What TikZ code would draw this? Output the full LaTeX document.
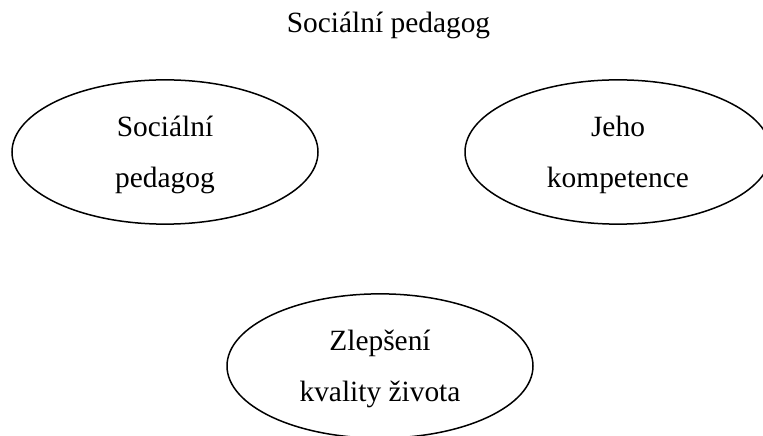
\documentclass[tikz,border=0pt]{standalone}
\usepackage{fontspec}
\setmainfont{Liberation Serif}
\usetikzlibrary{shapes.geometric}
\newcommand{\twolines}[2]{\raisebox{-5pt}{\begin{tabular}{@{}c@{}}#1\\#2\end{tabular}}}
\begin{document}
\begin{tikzpicture}[x=1pt,y=1pt,
  bubble/.style={draw=black, line width=1.5pt, ellipse, minimum width=306pt, minimum height=144pt, inner sep=0pt, font=\fontsize{29.4}{51}\selectfont},
  titletext/.style={font=\fontsize{29.4}{35}\selectfont, inner sep=0pt, anchor=base}]
\useasboundingbox (0,0) rectangle (763,436);
\clip (0,0) rectangle (763,436);
\node[titletext] (title) at (388.5,403) {Sociální pedagog};
\node[bubble] (sp) at (165,284) {\twolines{Sociální}{pedagog}};
\node[bubble] (jk) at (618,284) {\twolines{Jeho}{kompetence}};
\node[bubble] (zk) at (380,70) {\twolines{Zlepšení}{kvality života}};
\end{tikzpicture}
\end{document}
